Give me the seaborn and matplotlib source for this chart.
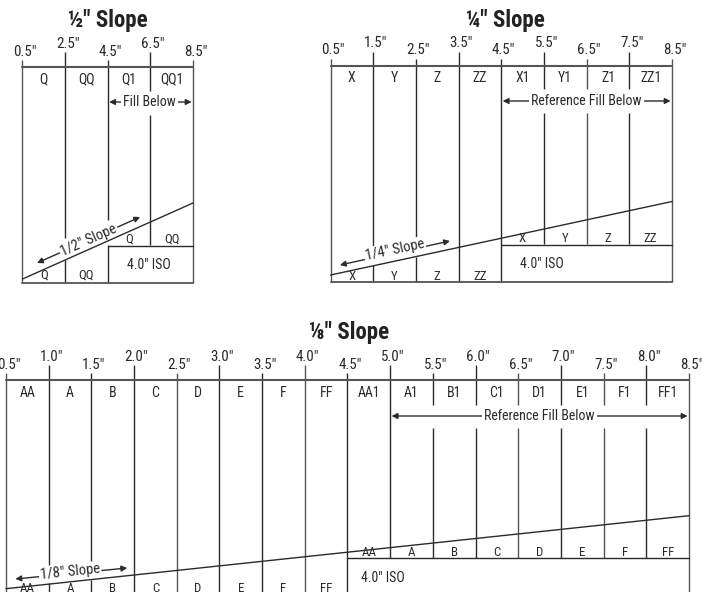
import matplotlib
matplotlib.use("Agg")
import matplotlib.pyplot as plt
from matplotlib import font_manager as fm
import seaborn as sns

sns.set_theme(style="white")
installed = {f.name for f in fm.fontManager.ttflist}
narrow = [n for n in ['Liberation Sans Narrow', 'Roboto Condensed', 'Roboto'] if n in installed]
plt.rcParams['font.family'] = narrow + ['Liberation Sans', 'DejaVu Sans']

W, H = 702, 592
LINE = '#2b2b2b'
GREY = '#555555'
TXT = '#2a2a2a'
FS = 10.0

# 1/2" slope
half_pos = [0.5, 2.5, 4.5, 6.5, 8.5]
half_ticks = ['0.5"', '2.5"', '4.5"', '6.5"', '8.5"']
half_top = ['Q', 'QQ', 'Q1', 'QQ1']
half_low = ['Q', 'QQ']
half_slope = [4, 80]
# 1/4" slope
quarter_pos = [0.5, 1.5, 2.5, 3.5, 4.5, 5.5, 6.5, 7.5, 8.5]
quarter_ticks = ['0.5"', '1.5"', '2.5"', '3.5"', '4.5"', '5.5"', '6.5"', '7.5"', '8.5"']
quarter_top = ['X', 'Y', 'Z', 'ZZ', 'X1', 'Y1', 'Z1', 'ZZ1']
quarter_low = ['X', 'Y', 'Z', 'ZZ']
quarter_slope = [7, 80.5]
# 1/8" slope
eighth_pos = [0.5, 1.0, 1.5, 2.0, 2.5, 3.0, 3.5, 4.0, 4.5, 5.0, 5.5, 6.0, 6.5, 7.0, 7.5, 8.0, 8.5]
eighth_ticks = ['0.5"', '1.0"', '1.5"', '2.0"', '2.5"', '3.0"', '3.5"', '4.0"', '4.5"',
                '5.0"', '5.5"', '6.0"', '6.5"', '7.0"', '7.5"', '8.0"', '8.5"']
eighth_top = ['AA', 'A', 'B', 'C', 'D', 'E', 'F', 'FF', 'AA1', 'A1', 'B1', 'C1', 'D1', 'E1', 'F1', 'FF1']
eighth_low = ['AA', 'A', 'B', 'C', 'D', 'E', 'F', 'FF']
eighth_slope = [3.3, 76.3]

fig = plt.figure(figsize=(W / 100, H / 100), dpi=100, facecolor='white')


def panel(x0, x1, yb, h, pos, ticks, top, low, slope, iso, segs, cfg):
    ax = fig.add_axes([x0 / W, (H - yb) / H, (x1 - x0) / W, h / H])
    ax.set_xlim(0.5, 8.5)
    ax.set_ylim(0, h)
    ax.axis('off')
    ppi = (x1 - x0) / 8
    # verticals
    for i, p in enumerate(pos):
        c = GREY if i in cfg['grey'] else LINE
        for a, b in segs[i]:
            ax.plot([p, p], [a, b], color=c, lw=1.0, clip_on=False, solid_capstyle='butt')
        ax.text(p + 2.5 / ppi, cfg['tick_y'][i % 2], ticks[i], ha='center', va='center',
                fontsize=FS + 0.8, color=TXT, clip_on=False)
    ax.plot([0.5, 8.5], [cfg['top'], cfg['top']], color=GREY, lw=1.5, clip_on=False)
    ax.plot([0.5, 8.5], [cfg['base'], cfg['base']], color=GREY, lw=1.3, clip_on=False)
    ax.plot([4.5, 8.5], [iso, iso], color=LINE, lw=1.0, clip_on=False)
    sns.lineplot(x=[0.5, 8.5], y=slope, ax=ax, color=LINE, lw=1.0, legend=False)
    ax.set_xlabel('')
    ax.set_ylabel('')
    ax.lines[-1].set_clip_on(False)
    ax.lines[-1].set_zorder(6)
    # cell labels
    n = len(top)
    step = 8 / n
    for i, t in enumerate(top):
        ax.text(0.5 + step * (i + 0.5), cfg['top_y'], t, ha='center', va='center',
                fontsize=FS, color=TXT)
    for i, t in enumerate(low):
        ax.text(0.5 + step * (i + 0.5), cfg['low_y'], t, ha='center', va='center',
                fontsize=FS - 0.7, color=TXT, clip_on=False)
        ax.text(4.5 + step * (i + 0.5), cfg['high_y'], t, ha='center', va='center',
                fontsize=FS - 0.7, color=TXT)
    ax.text(cfg['iso_x'], cfg['iso_y'], '4.0" ISO', ha='center', va='center', fontsize=FS, color=TXT)
    # fill arrow
    ax.annotate('', xy=(8.5, cfg['fill_y']), xytext=(cfg['fill_x0'], cfg['fill_y']),
                arrowprops=dict(arrowstyle='<|-|>', color=LINE, lw=1.0, mutation_scale=8.5,
                                shrinkA=1, shrinkB=1))
    ax.text(cfg['fill_tx'], cfg['fill_y'], cfg['fill_text'], ha='center', va='center', fontsize=FS,
            color=TXT, bbox=dict(fc='white', ec='none', pad=1.5), zorder=5)
    # slope arrow
    ax.annotate('', xy=cfg['sl_a'], xytext=cfg['sl_b'],
                arrowprops=dict(arrowstyle='<|-|>', color=LINE, lw=1.0, mutation_scale=8.5,
                                shrinkA=0, shrinkB=0), annotation_clip=False)
    ax.text(cfg['sl_x'], cfg['sl_y'], cfg['sl_text'], ha='center', va='center', fontsize=FS + 0.5,
            color=TXT, rotation=cfg['sl_rot'], rotation_mode='anchor',
            bbox=dict(fc='white', ec='none', pad=0.8), zorder=5)
    return ax


h_segs = [[(0, 223)], [(0, 23), (45, 231)], [(0, 38), (63, 223)], [(38, 168), (192, 231)], [(0, 223)]]
panel(22.5, 193, 283, 216, half_pos, half_ticks, half_top, half_low, half_slope, 37.5, h_segs,
      dict(grey=[0, 4], tick_y=(231, 239), top=216, base=0, top_y=204, low_y=8, high_y=44,
           iso_x=6.45, iso_y=18, fill_y=181, fill_x0=4.5, fill_tx=6.45, fill_text='Fill Below',
           sl_a=(1.18, 20), sl_b=(6.02, 66), sl_x=3.6, sl_y=43, sl_text='1/2" Slope', sl_rot=24))

q_segs = [[(0, 223)], [(0, 17), (36, 230)], [(0, 25), (45, 223)], [(0, 230)], [(0, 223)],
          [(38, 169), (193, 230)], [(38, 169), (193, 223)], [(38, 169), (193, 230)], [(0, 223)]]
panel(330.5, 672, 282, 216, quarter_pos, quarter_ticks, quarter_top, quarter_low, quarter_slope, 37.5, q_segs,
      dict(grey=[0, 6, 8], tick_y=(232, 239), top=216, base=0, top_y=204, low_y=6, high_y=44,
           iso_x=5.45, iso_y=18, fill_y=181, fill_x0=4.5, fill_tx=6.5, fill_text='Reference Fill Below',
           sl_a=(0.72, 17), sl_b=(3.3, 41), sl_x=2.01, sl_y=32, sl_text='1/4" Slope', sl_rot=12))

tops = (219, 227)
e_segs = []
for i, p in enumerate(eighth_pos):
    t = tops[i % 2]
    if p == 1.0:
        e_segs.append([(0, 9), (27, t)])
    elif p == 1.5:
        e_segs.append([(0, 12), (30, t)])
    elif p == 5.0:
        e_segs.append([(34, t)])
    elif 5.0 < p < 8.5:
        e_segs.append([(34, 164), (187, t)])
    else:
        e_segs.append([(0, t)])
panel(6, 689, 592, 212, eighth_pos, eighth_ticks, eighth_top, eighth_low, eighth_slope, 33.7, e_segs,
      dict(grey=[0, 4, 7, 12, 14, 16], tick_y=(227, 235), top=212, base=-10, top_y=199, low_y=3, high_y=39,
           iso_x=4.91, iso_y=14, fill_y=176, fill_x0=5.0, fill_tx=6.75, fill_text='Reference Fill Below',
           sl_a=(0.61, 13), sl_b=(1.92, 24), sl_x=1.25, sl_y=20, sl_text='1/8" Slope', sl_rot=6))

title_kw = dict(ha='center', va='center', fontsize=16.5, fontweight='bold', color='#222222',
                family=narrow + ['Liberation Sans', 'DejaVu Sans'])
fig.text(108 / W, 1 - 20 / H, '½" Slope', **title_kw)
fig.text(505.5 / W, 1 - 20 / H, '¼" Slope', **title_kw)
fig.text(349 / W, 1 - 333 / H, '⅛" Slope', **title_kw)

fig.savefig('out.png', dpi=100, facecolor='white')
